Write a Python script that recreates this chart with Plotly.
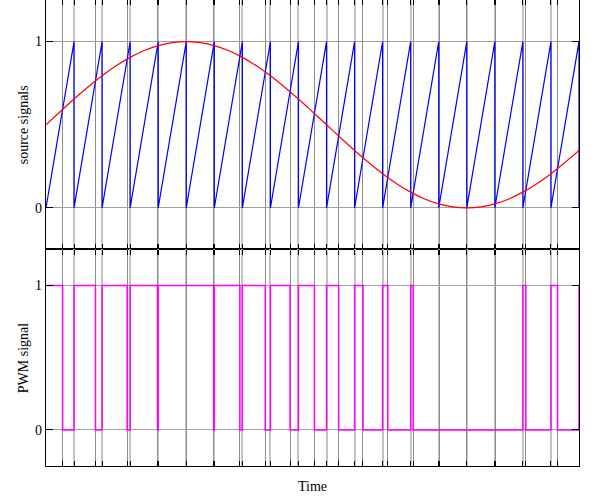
import plotly.graph_objects as go
from plotly.subplots import make_subplots

# ---- data ----
# sawtooth carrier: ramps 0 -> 1 between consecutive reset times
saw_times = [0.00, 0.05, 0.10, 0.15, 0.20, 0.25, 0.30, 0.35, 0.40, 0.45,
             0.50, 0.55, 0.60, 0.65, 0.70, 0.75, 0.80, 0.85, 0.90, 0.95]
saw_low = 0.0
saw_high = 1.0

# source sine (read at steps of 0.025 in time)
sine_t = [0.000, 0.025, 0.050, 0.075, 0.100, 0.125, 0.150, 0.175, 0.200, 0.225,
          0.250, 0.275, 0.300, 0.325, 0.350, 0.375, 0.400, 0.425, 0.450, 0.475,
          0.500, 0.525, 0.550, 0.575, 0.600, 0.625, 0.650, 0.675, 0.700, 0.725,
          0.750, 0.775, 0.800, 0.825, 0.850, 0.875, 0.900, 0.925, 0.950]
sine_v = [0.500, 0.578, 0.655, 0.727, 0.794, 0.854, 0.905, 0.946, 0.976, 0.994,
          1.000, 0.994, 0.976, 0.946, 0.905, 0.854, 0.794, 0.727, 0.655, 0.578,
          0.500, 0.422, 0.345, 0.273, 0.206, 0.146, 0.095, 0.054, 0.024, 0.006,
          0.000, 0.006, 0.024, 0.054, 0.095, 0.146, 0.206, 0.273, 0.345]

# PWM edges
pwm_rise = [0.00, 0.05, 0.10, 0.15, 0.20, 0.30, 0.35, 0.40, 0.45, 0.50,
            0.55, 0.60, 0.65, 0.85, 0.90, 0.95]
pwm_fall = [0.0296, 0.0882, 0.1447, 0.1987, 0.2988, 0.3456, 0.3908, 0.4350,
            0.4784, 0.5216, 0.5650, 0.6092, 0.6544, 0.8553, 0.9118]

# crossing times (carrier meets sine) -> darker grid lines
cross_t = [0.0296, 0.0882, 0.1447, 0.1987, 0.2500, 0.2988, 0.3456, 0.3908,
           0.4350, 0.4784, 0.5216, 0.5650, 0.6092, 0.6544, 0.7012, 0.7500,
           0.8012, 0.8553, 0.9118]

y_ticks = [0, 1]

# ---- build traces ----
saw_x, saw_y = [saw_times[0]], [saw_low]
for t in saw_times[1:]:
    saw_x += [t, t]
    saw_y += [saw_high, saw_low]

events = sorted([(t, 1) for t in pwm_rise] + [(t, 0) for t in pwm_fall])
pwm_x = [e[0] for e in events]
pwm_y = [e[1] for e in events]

FONT = "Liberation Serif"
FS = 14

fig = make_subplots(rows=2, cols=1, shared_xaxes=True, vertical_spacing=0)

fig.add_trace(go.Scatter(x=saw_x, y=saw_y, mode="lines",
                         line=dict(color="#0000ff", width=1.2),
                         showlegend=False), row=1, col=1)
fig.add_trace(go.Scatter(x=sine_t, y=sine_v, mode="lines",
                         line=dict(color="#ff0000", width=1.2, shape="spline"),
                         showlegend=False), row=1, col=1)
fig.add_trace(go.Scatter(x=pwm_x, y=pwm_y, mode="lines",
                         line=dict(color="#ff00ff", width=1.5, shape="hv"),
                         showlegend=False), row=2, col=1)

xcommon = dict(range=[0, 0.95], tickmode="array", tickvals=cross_t,
               showticklabels=False, ticks="inside", ticklen=5,
               tickcolor="#000000", tickwidth=1,
               showgrid=True, gridcolor="#8c8c8c", gridwidth=1,
               minor=dict(tickmode="array", tickvals=saw_times, ticks="inside",
                          ticklen=5, tickcolor="#000000", tickwidth=1,
                          showgrid=True, gridcolor="#c4c4c4", gridwidth=2),
               showline=True, linecolor="#000000", linewidth=1.3,
               mirror="ticks", zeroline=False)
ycommon = dict(range=[-0.25, 1.25], tickmode="array", tickvals=y_ticks,
               ticks="inside", ticklen=7, tickcolor="#000000",
               showgrid=True, gridcolor="#a0a0a0", gridwidth=1,
               showline=True, linecolor="#000000", linewidth=1.3,
               mirror="ticks", zeroline=False,
               tickfont=dict(family=FONT, size=FS, color="#000000"))

fig.update_xaxes(**xcommon)
fig.update_yaxes(**ycommon)
fig.update_yaxes(domain=[0.4646, 1.0], row=1, col=1)
fig.update_yaxes(domain=[0.0, 0.4646], row=2, col=1)

fig.add_annotation(text="source signals", xref="paper", yref="y domain",
                   x=0, y=0.5, xshift=-32, textangle=-90, showarrow=False,
                   font=dict(family=FONT, size=FS, color="#000000"))
fig.add_annotation(text="PWM signal", xref="paper", yref="y2 domain",
                   x=0, y=0.5, xshift=-32, textangle=-90, showarrow=False,
                   font=dict(family=FONT, size=FS, color="#000000"))
fig.add_annotation(text="Time", xref="paper", yref="paper",
                   x=0.5, y=0, yshift=-30, showarrow=False,
                   font=dict(family=FONT, size=FS, color="#000000"))

fig.update_layout(width=600, height=500, plot_bgcolor="#ffffff",
                  paper_bgcolor="#ffffff",
                  margin=dict(l=46, r=21, t=0, b=34),
                  font=dict(family=FONT, size=FS, color="#000000"))

fig.write_html("out.html", config={"displayModeBar": False},
               post_script="document.body.style.margin='0px';"
                           "document.body.style.overflow='hidden';")
